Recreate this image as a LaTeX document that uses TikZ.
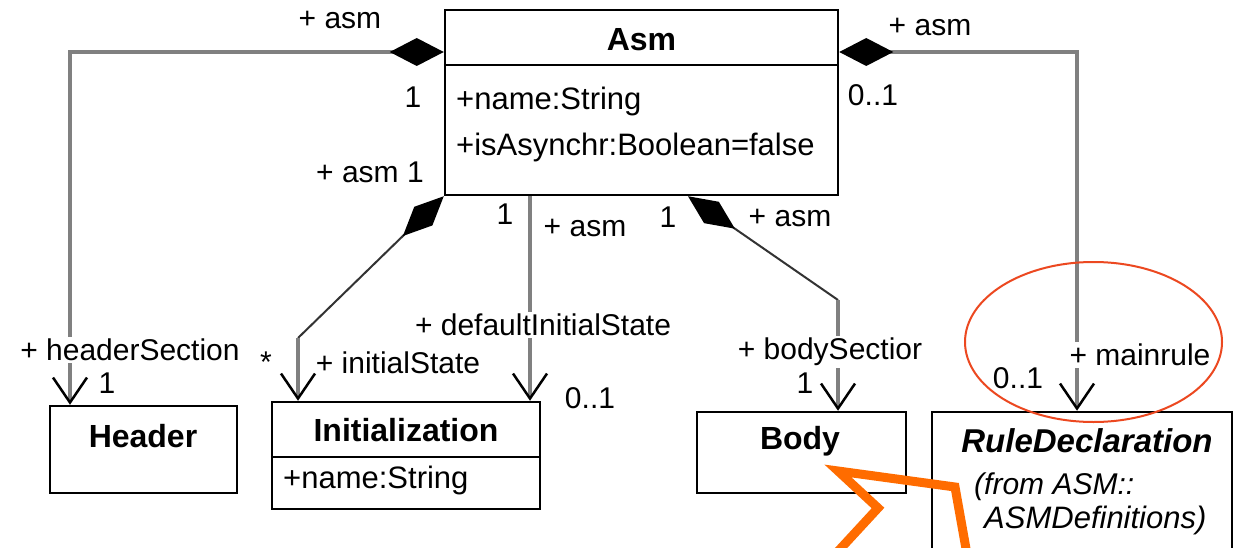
\documentclass[tikz,border=0pt]{standalone}
\usepackage{fontspec}
\setmainfont{Liberation Sans}
\usetikzlibrary{arrows.meta}
\definecolor{assocgray}{RGB}{128,128,128}
\definecolor{ringred}{RGB}{236,72,32}
\definecolor{boltorange}{RGB}{255,108,0}

\begin{document}
\begin{tikzpicture}[x=1pt,y=-1pt,
  lbl/.style={font=\fontsize{30}{35}\selectfont, inner sep=1pt},
  lblcut/.style={lbl, fill=white, inner sep=2pt},
  clsbox/.style={draw=black, line width=2.5pt, inner sep=0pt, fill=white},
  clsname/.style={font=\bfseries\fontsize{32}{37}\selectfont, inner sep=0pt},
  clsattr/.style={font=\fontsize{31}{36}\selectfont, inner sep=0pt, anchor=west},
  divider/.style={line width=2.5pt},
  link/.style={draw=assocgray, line width=4.5pt},
  slant/.style={draw=black!80, line width=2pt},
  compnav/.style={arrows={Diamond[length=54pt,width=28pt,color=black]-Straight Barb[length=25pt,width=34pt,line width=2.5pt,color=black]}},
  nav/.style={arrows={-Straight Barb[length=25pt,width=34pt,line width=2.5pt,color=black]}},
  compslant/.style={arrows={Diamond[length=57pt,width=26pt,color=black]-}},
]
% page
\fill[white] (0,0) rectangle (1236,548);
\useasboundingbox (0,0) rectangle (1236,548);

% class boxes
\node[clsbox, minimum width=393pt, minimum height=185pt] (asm) at (641.5,102.5) {};
\node[clsbox, minimum width=187pt, minimum height=87pt] (hdr) at (143.5,449.5) {};
\node[clsbox, minimum width=268pt, minimum height=107pt] (init) at (406,455.5) {};
\node[clsbox, minimum width=209pt, minimum height=81pt] (body) at (801.5,452.5) {};
\node[clsbox, minimum width=300pt, minimum height=160pt] (rd) at (1082,492) {};

\coordinate (asmDiv) at (0,65);
\coordinate (initDiv) at (0,457);
\draw[divider] (asm.west |- asmDiv) -- (asm.east |- asmDiv);
\draw[divider] (init.west |- initDiv) -- (init.east |- initDiv);

% class texts
\node[clsname] (asmT) at (641.5,40) {Asm};
\node[clsattr] (asmA1) at (456,101) {+name:String};
\node[clsattr] (asmA2) at (456,147) {+isAsynchr:Boolean=false};
\node[clsname] (hdrT) at (143,436) {Header};
\node[clsname] (initT) at (406,430) {Initialization};
\node[clsattr] (initA1) at (283,480) {+name:String};
\node[clsname] (bodyT) at (800,441) {Body};
\node[clsname, font=\bfseries\itshape\fontsize{33}{38}\selectfont] (rdT) at (1087,441) {RuleDeclaration};
\node[clsattr, font=\itshape\fontsize{30}{36}\selectfont] (rdP1) at (974,487) {(from ASM::};
\node[clsattr, font=\itshape\fontsize{31}{36}\selectfont] (rdP2) at (984,520) {ASMDefinitions)};

% associations
\coordinate (hdrBend) at (70,52);
\draw[link, compnav] (asm.west |- hdrBend) -- (hdrBend) -- (hdr.north -| hdrBend);

\coordinate (rdBend) at (1077,52);
\draw[link, compnav] (asm.east |- rdBend) -- (rdBend) -- (rd.north -| rdBend);

\coordinate (initBend) at (298,338);
\draw[slant, compslant] (asm.south west) -- (initBend);
\draw[link, nav] (initBend) -- (init.north -| initBend);

\coordinate (dfltX) at (530,0);
\draw[link, nav] (asm.south -| dfltX) -- (init.north -| dfltX);

\coordinate (bodyX) at (688,0);
\coordinate (bodyBend) at (838,300);
\draw[slant, compslant] (asm.south -| bodyX) -- (bodyBend);
\draw[link, nav] (bodyBend) -- (body.north -| bodyBend);

% role names and multiplicities
\node[lbl] (l1) at (340,20) {+ asm};
\node[lbl] (l2) at (413,97) {1};
\node[lbl] (l3) at (370,172) {+ asm 1};
\node[lblcut] (l4) at (130,350) {+ headerSection};
\node[lbl] (l5) at (107,383) {1};
\node[lbl] (l6) at (266,362) {*};
\node[lbl] (l7) at (398,363) {+ initialState};
\node[lbl] (l8) at (505,214) {1};
\node[lbl] (l9) at (585,228) {+ asm};
\node[lblcut] (l10) at (543,325) {+ defaultInitialState};
\node[lbl] (l11) at (590,398) {0..1};
\node[lbl] (l12) at (668,217) {1};
\node[lbl] (l13) at (790,218) {+ asm};
\node[lblcut] (l14) at (830,352) {+ bodySectior};
\node[lbl] (l15) at (805,383) {1};
\node[lbl] (l16) at (930,27) {+ asm};
\node[lbl] (l17) at (873,95) {0..1};
\node[lblcut] (l18) at (1140,355) {+ mainrule};
\node[lbl] (l19) at (1018,378) {0..1};

% highlight marks
\draw[ringred, line width=2pt] (1093.5,342) ellipse [x radius=128.5, y radius=80];
\draw[boltorange, line width=9pt, miter limit=10] (830,560) -- (878,508) -- (838,471) -- (955,487) -- (968,560);
\end{tikzpicture}
\end{document}
